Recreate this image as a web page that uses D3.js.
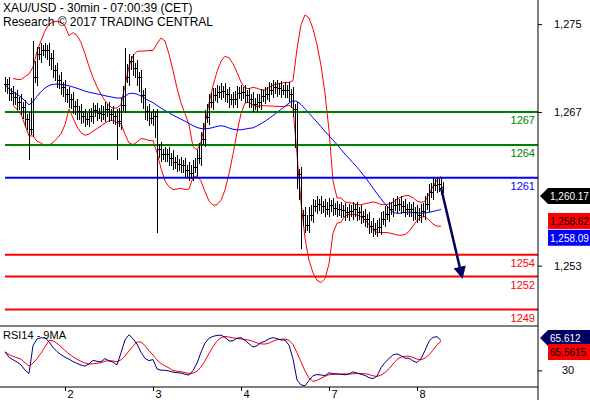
<!DOCTYPE html>
<html><head><meta charset="utf-8">
<script src="https://cdn.jsdelivr.net/npm/d3@7"></script>
<style>body{margin:0;background:#fff}text{font-family:Arial,"Liberation Sans",sans-serif}</style>
</head><body><div id="chart"></div>
<script>
// 30min closes (one value per ~2 bars)
var closes = [1269.5,1268.7,1268.3,1267.9,1267.4,1266.3,1265.4,1270.1,1272.2,1272.6,1272.6,1271.9,1270.8,1269.9,1269.2,1268.6,1268.1,1267.5,1267.0,1266.6,
  1266.3,1266.6,1267.1,1266.9,1266.8,1267.2,1266.8,1266.6,1266.1,1267.6,1270.1,1271.6,1271.0,1270.1,1268.5,1267.0,1266.4,1266.6,1263.6,1263.1,
  1263.1,1262.8,1262.4,1262.2,1262.1,1261.7,1261.4,1261.9,1262.8,1264.5,1266.5,1267.9,1268.5,1268.8,1268.9,1268.6,1268.1,1268.1,1268.7,1268.8,
  1268.5,1268.1,1267.7,1267.9,1268.4,1268.6,1269.0,1269.2,1269.1,1269.0,1269.0,1268.6,1267.2,1261.3,1257.6,1256.7,1257.6,1258.4,1258.6,1258.4,
  1258.1,1258.5,1258.2,1258.1,1258.0,1257.8,1257.9,1258.1,1257.8,1257.5,1257.2,1256.6,1256.3,1256.5,1257.2,1257.7,1258.1,1258.5,1258.6,1258.4,
  1258.1,1258.1,1257.8,1257.6,1257.9,1258.6,1259.7,1260.3,1260.4,1260.1];
// long wicks [bar index, extreme price]
var spikes = [[6,1262.6],[28,1262.6],[38,1256.0],[73,1260.0],[74,1254.5],[7,1273.5],[30,1272.8]];
var levels = [1267,1264,1261,1254,1252,1249];
var levelColors = ['#008000','#008000','#0000ff','#ff0000','#ff0000','#ff0000'];
var priceTicks = [1253,1267,1275];
var dayLabels = ['2','3','4','7','8'];
var dayStart = [15,37,59,81,103]; // bar index at each day start
var rsiTags = ['65.612', '65.5615'];

var W = 590, H = 400, R = 538, mainB = 326, rsiB = 387;
var svg = d3.select('#chart').append('svg').attr('width', W).attr('height', H);

var x = d3.scaleLinear().domain([0, 1]).range([5, 9]);
var y = d3.scaleLinear().domain([1247.5, 1277.2]).range([mainB, 0]);

// indicators
function sma(a, n) { return a.map(function (d, i) { var s = a.slice(Math.max(0, i - n + 1), i + 1); return d3.mean(s); }); }
var mid = sma(closes, 10);
var sd = closes.map(function (d, i) { var s = closes.slice(Math.max(0, i - 9), i + 1); return s.length > 1 ? d3.deviation(s) : 0; });
var upper = mid.map(function (m, i) { return m + 2 * sd[i]; });
var lower = mid.map(function (m, i) { return m - 2 * sd[i]; });
var slow = sma(closes, 25);

var line = d3.line().x(function (d, i) { return x(i); }).y(function (d) { return y(d); });
var clipped = line.defined(function (d, i) { return i >= 2; });
svg.append('path').attr('d', clipped(upper)).attr('fill', 'none').attr('stroke', '#ff0000');
svg.append('path').attr('d', clipped(lower)).attr('fill', 'none').attr('stroke', '#ff0000');
svg.append('path').attr('d', d3.line().x(function (d, i) { return x(i); }).y(function (d) { return y(d); })(slow))
  .attr('fill', 'none').attr('stroke', '#0000ff');

// levels
levels.forEach(function (l, i) {
  svg.append('line').attr('x1', 5).attr('x2', R).attr('y1', y(l)).attr('y2', y(l))
    .attr('stroke', levelColors[i]).attr('stroke-width', 2);
  svg.append('text').attr('x', 535).attr('y', y(l) + 12).attr('text-anchor', 'end')
    .attr('font-size', 11).attr('fill', levelColors[i]).text(l);
});

// bars
var spikeMap = {};
spikes.forEach(function (s) { spikeMap[s[0]] = s[1]; });
closes.forEach(function (c, i) {
  var o = i ? closes[i - 1] : c;
  var hi = Math.max(o, c) + 0.7, lo = Math.min(o, c) - 0.7;
  if (spikeMap[i] !== undefined) { hi = Math.max(hi, spikeMap[i]); lo = Math.min(lo, spikeMap[i]); }
  var g = svg.append('g').attr('stroke', '#000').attr('stroke-width', 1).attr('shape-rendering', 'crispEdges');
  g.append('line').attr('x1', x(i)).attr('x2', x(i)).attr('y1', y(hi)).attr('y2', y(lo));
  g.append('line').attr('x1', x(i) - 1.5).attr('x2', x(i)).attr('y1', y(o)).attr('y2', y(o));
  g.append('line').attr('x1', x(i)).attr('x2', x(i) + 1.5).attr('y1', y(c)).attr('y2', y(c));
  var xm = x(i) + 2, m = (c + closes[Math.min(i + 1, closes.length - 1)]) / 2;
  g.append('line').attr('x1', xm).attr('x2', xm).attr('y1', y(Math.max(c, m) + 0.5)).attr('y2', y(Math.min(c, m) - 0.5));
});

// arrow
var n = closes.length - 1;
svg.append('defs').append('marker').attr('id', 'ah').attr('viewBox', '0 0 10 10').attr('refX', 8).attr('refY', 5)
  .attr('markerWidth', 5).attr('markerHeight', 5).attr('orient', 'auto')
  .append('path').attr('d', 'M0,0L10,5L0,10Z').attr('fill', '#000060');
svg.append('line').attr('x1', x(n)).attr('y1', y(closes[n])).attr('x2', x(n) + 21).attr('y2', y(1252))
  .attr('stroke', '#000060').attr('stroke-width', 2.5).attr('marker-end', 'url(#ah)');

// RSI (Wilder smoothing, seeded)
var ag = 0.3, al = 0.3, P = 12;
var rsi = closes.map(function (c, i) {
  var d = i ? c - closes[i - 1] : 0;
  ag = (ag * (P - 1) + Math.max(d, 0)) / P;
  al = (al * (P - 1) + Math.max(-d, 0)) / P;
  return 100 * ag / (ag + al);
});
var rsiMa = sma(rsi, 5);
var yr = d3.scaleLinear().domain([12, 78]).range([rsiB, mainB]);
var rl = d3.line().x(function (d, i) { return x(i); }).y(function (d) { return yr(d); });
svg.append('path').attr('d', rl(rsiMa)).attr('fill', 'none').attr('stroke', '#ff0000');
svg.append('path').attr('d', rl(rsi)).attr('fill', 'none').attr('stroke', '#000080');

// frame
svg.append('line').attr('x1', R).attr('x2', R).attr('y1', 0).attr('y2', H).attr('stroke', '#000');
[mainB, rsiB].forEach(function (v) { svg.append('line').attr('x1', 0).attr('x2', R).attr('y1', v).attr('y2', v).attr('stroke', '#000'); });

// axes
var ya = d3.axisRight(y).tickValues(priceTicks).tickSize(4).tickFormat(d3.format(',')).tickPadding(12);
svg.append('g').attr('transform', 'translate(' + R + ',0)').call(ya).call(function (g) { g.select('.domain').remove(); g.selectAll('text').attr('font-size', 11); });
var yra = d3.axisRight(yr).tickValues([30]).tickSize(4).tickPadding(20);
svg.append('g').attr('transform', 'translate(' + R + ',0)').call(yra).call(function (g) { g.select('.domain').remove(); g.selectAll('text').attr('font-size', 11); });
var xa = d3.axisBottom(x).tickValues(dayStart).tickSize(4).tickFormat(function (d, i) { return dayLabels[i]; }).tickPadding(-1);
svg.append('g').attr('transform', 'translate(0,' + rsiB + ')').call(xa).call(function (g) { g.select('.domain').remove(); g.selectAll('text').attr('font-size', 11).attr('text-anchor', 'start').attr('dx', 2); });

// tags
function tag(yy, col, txt, arrow) {
  var g = svg.append('g').attr('transform', 'translate(' + R + ',' + yy + ')');
  if (arrow) g.append('path').attr('d', 'M2,0L10,-8L52,-8L52,8L10,8Z').attr('fill', col);
  else g.append('rect').attr('x', 10).attr('y', -8).attr('width', 42).attr('height', 16).attr('fill', col);
  g.append('text').attr('x', 12).attr('y', 4).attr('font-size', 10).attr('fill', col === '#ff0000' ? '#000' : '#fff').text(txt);
}
tag(y(1260.17) + 9, '#000', '1,260.17', true);
tag(y(1258.62) + 17, '#ff0000', '1,258.62', false);
tag(y(1258.09) + 28, '#0000ff', '1,258.09', false);
tag(338, '#000060', rsiTags[0], true);
tag(352, '#ff0000', rsiTags[1], false);

svg.append('text').attr('x', 3).attr('y', 12).attr('font-size', 12).text('XAU/USD - 30min - 07:00:39 (CET)');
svg.append('text').attr('x', 3).attr('y', 26).attr('font-size', 12).text('Research \u00a9 2017 TRADING CENTRAL');
svg.append('text').attr('x', 3).attr('y', 339).attr('font-size', 11).text('RSI14 - 9MA');
</script></body></html>
